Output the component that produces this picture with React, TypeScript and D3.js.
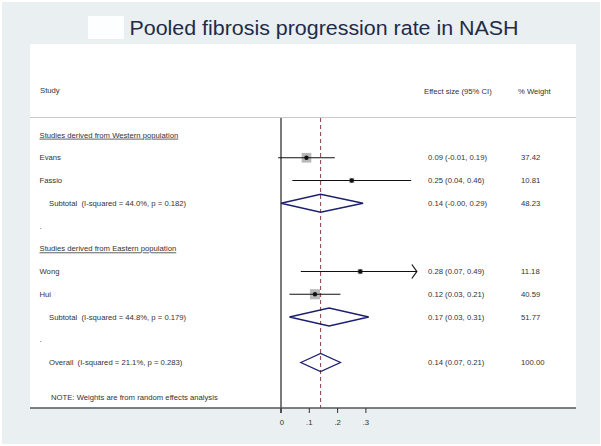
import React from "react";
import * as d3 from "d3";

// row content, in order from top to bottom
const rowLabels = [
  "Studies derived from Western population",
  "Evans",
  "Fassio",
  "Subtotal  (I-squared = 44.0%, p = 0.182)",
  ".",
  "Studies derived from Eastern population",
  "Wong",
  "Hui",
  "Subtotal  (I-squared = 44.8%, p = 0.179)",
  ".",
  "Overall  (I-squared = 21.1%, p = 0.283)",
];
const rowKinds = ["group", "study", "study", "pooled", "blank", "group", "study", "study", "pooled", "blank", "pooled"];
const estimates = [null, 0.09, 0.25, 0.14, null, null, 0.28, 0.12, 0.17, null, 0.14];
const lowerCI = [null, -0.01, 0.04, -0.0, null, null, 0.07, 0.03, 0.03, null, 0.07];
const upperCI = [null, 0.19, 0.46, 0.29, null, null, 0.49, 0.21, 0.31, null, 0.21];
const effectText = ["", "0.09 (-0.01, 0.19)", "0.25 (0.04, 0.46)", "0.14 (-0.00, 0.29)", "", "", "0.28 (0.07, 0.49)", "0.12 (0.03, 0.21)", "0.17 (0.03, 0.31)", "", "0.14 (0.07, 0.21)"];
const weights = ["", "37.42", "10.81", "48.23", "", "", "11.18", "40.59", "51.77", "", "100.00"];
const xTicks = [0, 0.1, 0.2, 0.3];
const xTickLabels = ["0", ".1", ".2", ".3"];
const overallEffect = 0.14;
const axisMax = 0.48; // CI beyond this is drawn as arrow

const W = 601, H = 446;
const font = "'Liberation Sans', Arial, sans-serif";
const txt = "#333";
const fs = 7.7;

const App = () => {
  const x = d3.scaleLinear().domain([0, 0.3]).range([281, 365.9]);
  const y = d3.scalePoint<number>().domain(d3.range(rowLabels.length)).range([135, 362.5]);
  const sq = d3.scaleSqrt().domain([0, 40]).range([0, 10]);

  const axisY = 408;

  return (
    <svg width={W} height={H} style={{ display: "block", position: "absolute", left: 0, top: 0 }}>
      <rect x={0} y={0} width={W} height={H} fill="#fff" />
      <rect x={2} y={2} width={598} height={442} fill="#eaeff2" />
      <rect x={88} y={16} width={36} height={23} fill="#fdfeff" />
      <text x={129.5} y={34.5} fontFamily={font} fontSize={20.5} textLength={389} lengthAdjust="spacingAndGlyphs" fill="#1f2b47">
        Pooled fibrosis progression rate in NASH
      </text>
      <rect x={30} y={44} width={546} height={axisY - 44} fill="#fff" />

      {/* header */}
      <g fontFamily={font} fontSize={fs} fill={txt}>
        <text x={40} y={90} dy="0.35em">Study</text>
        <text x={424} y={91.5} dy="0.35em">Effect size (95% CI)</text>
        <text x={518} y={91.5} dy="0.35em">% Weight</text>
      </g>
      <line x1={30} x2={576} y1={117.5} y2={117.5} stroke="#c8c8c8" strokeWidth={1} />

      {/* reference lines */}
      <line x1={x(0)} x2={x(0)} y1={118} y2={axisY + 5} stroke="#222" strokeWidth={1.2} />

      {rowLabels.map((lab, i) => {
        const kind = rowKinds[i];
        const yy = y(i)!;
        const lx = kind === "pooled" ? 49 : 39.5;
        return (
          <g key={i} fontFamily={font} fontSize={fs} fill={txt}>
            <text x={lx} y={yy} dy="0.35em" style={{ whiteSpace: "pre" }} textDecoration={kind === "group" ? "underline" : undefined}>
              {lab}
            </text>
            {effectText[i] && <text x={428} y={yy} dy="0.35em">{effectText[i]}</text>}
            {weights[i] && <text x={521} y={yy} dy="0.35em">{weights[i]}</text>}
          </g>
        );
      })}

      {/* study boxes under lines */}
      {rowKinds.map((k, i) => {
        if (k !== "study") return null;
        const s = sq(+weights[i]);
        return (
          <rect key={"b" + i} x={x(estimates[i]!) - s / 2} y={y(i)! - s / 2} width={s} height={s} fill="#b8b8b8" />
        );
      })}

      <line x1={x(overallEffect)} x2={x(overallEffect)} y1={118} y2={axisY} stroke="#8a3b46" strokeWidth={1} strokeDasharray="4,3" />

      {rowKinds.map((k, i) => {
        const yy = y(i)!;
        if (k === "study") {
          const hi = Math.min(upperCI[i]!, axisMax);
          const clipped = upperCI[i]! > axisMax;
          return (
            <g key={"s" + i}>
              <line x1={x(lowerCI[i]!)} x2={x(hi)} y1={yy} y2={yy} stroke="#111" strokeWidth={1.2} />
              {clipped && (
                <path d={`M${x(hi) - 5},${yy - 7}L${x(hi)},${yy}L${x(hi) - 5},${yy + 7}`} fill="none" stroke="#111" strokeWidth={1.2} />
              )}
              <circle cx={x(estimates[i]!)} cy={yy} r={2.2} fill="#111" />
            </g>
          );
        }
        if (k === "pooled") {
          const h = 9;
          const d = `M${x(lowerCI[i]!)},${yy}L${x(estimates[i]!)},${yy - h}L${x(upperCI[i]!)},${yy}L${x(estimates[i]!)},${yy + h}Z`;
          return <path key={"p" + i} d={d} fill="none" stroke="#1c1f6e" strokeWidth={1.3} />;
        }
        return null;
      })}

      <text x={51} y={397} dy="0.35em" fontFamily={font} fontSize={fs} fill={txt}>
        NOTE: Weights are from random effects analysis
      </text>

      {/* x axis */}
      <line x1={30} x2={576} y1={axisY} y2={axisY} stroke="#555" strokeWidth={1.5} />
      {xTicks.map((t, i) => (
        <g key={"t" + i}>
          <line x1={x(t)} x2={x(t)} y1={axisY} y2={axisY + 5} stroke="#333" strokeWidth={1} />
          <text x={x(t) + (i === 0 ? 1 : 0)} y={422} dy="0.35em" textAnchor="middle" fontFamily={font} fontSize={fs} fill={txt}>
            {xTickLabels[i]}
          </text>
        </g>
      ))}
    </svg>
  );
};

export default App;
